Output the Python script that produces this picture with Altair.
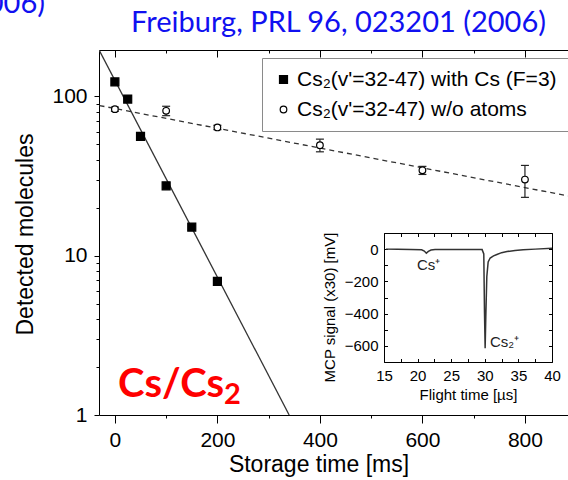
import altair as alt
import pandas as pd

# ---------------- texts ----------------
TITLE = "Freiburg, PRL 96, 023201 (2006)"
TITLE_CUT = "(2006)"
RED_MAIN = "Cs/Cs"
RED_SUB = "2"
LAB_CS = "Cs\u2082(v'=32-47) with Cs (F=3)"
LAB_WO = "Cs\u2082(v'=32-47) w/o atoms"
X_TITLE = "Storage time [ms]"
Y_TITLE = "Detected molecules"
INSET_X_TITLE = "Flight time [\u00b5s]"
INSET_Y_TITLE = "MCP signal (x30) [mV]"
PEAK_CS = "Cs\u207a"
PEAK_CS2 = "Cs\u2082\u207a"

# ---------------- main data ----------------
t_cs = [0, 25, 50, 100, 150, 200]
n_cs = [123, 96, 56, 27.4, 15.1, 6.9]

t_wo = [0, 100, 200, 400, 600, 800]
n_wo = [83, 81, 63.7, 49.3, 34.3, 30.0]
e_wo = [2.5, 5.5, 2.0, 4.5, 2.0, 6.8]

fit_cs_t = [-30, 340]
fit_cs_n = [193, 1]
fit_wo_t = [-30, 884]
fit_wo_n = [87.4, 23.7]

x_major = [0, 200, 400, 600, 800]
x_minor = [100, 300, 500, 700]
y_major = [1, 10, 100]
y_minor = [2, 3, 4, 5, 6, 7, 8, 9, 20, 30, 40, 50, 60, 70, 80, 90]

# ---------------- inset data ----------------
flight_t = [15.3, 17, 19, 20.6, 21.0, 21.3, 21.6, 22.0, 22.6, 24, 26, 28, 29.6,
            29.85, 29.95, 30.05, 30.15, 30.3, 30.5, 30.8, 31.3, 31.8, 32.5, 33.3,
            34.5, 35.7, 37.5, 40.0]
flight_v = [0, -1, -2, -4, -12, -25, -14, -6, -3, -3, -2, -2, -3,
            -30, -380, -615, -420, -170, -80, -55, -42, -33, -22, -15,
            -8, -4, 0, 6]
inset_x_labels = [15, 20, 25, 30, 35, 40]
inset_x_ticks = [15, 17.5, 20, 22.5, 25, 27.5, 30, 32.5, 35, 37.5, 40]
inset_y_labels = [0, -200, -400, -600]
inset_y_ticks = [100, 0, -100, -200, -300, -400, -500, -600, -700]

# ---------------- layout ----------------
W, H = 469, 365
AXF = "Liberation Sans"

X_MAIN = alt.Scale(domain=[-31, 884], nice=False, zero=False)
Y_MAIN = alt.Scale(type="log", domain=[1, 195], nice=False)
X_IN = alt.Scale(domain=[15, 40], range=[285, 453], nice=False, zero=False)
Y_IN = alt.Scale(domain=[-700, 100], range=[312, 183], nice=False, zero=False)


def x_carrier(vals, scale, axis):
    return alt.Chart(pd.DataFrame({"v": vals})).mark_point(opacity=0).encode(
        x=alt.X("v:Q", scale=scale, axis=axis))


def y_carrier(vals, scale, axis):
    return alt.Chart(pd.DataFrame({"v": vals})).mark_point(opacity=0).encode(
        y=alt.Y("v:Q", scale=scale, axis=axis))


def blank(**kw):
    base = dict(title=None, labels=False, grid=False)
    base.update(kw)
    return alt.Axis(**base)


df_fit_cs = pd.DataFrame({"t": fit_cs_t, "n": fit_cs_n})
df_fit_wo = pd.DataFrame({"t": fit_wo_t, "n": fit_wo_n})
df_err = pd.DataFrame({"t": t_wo,
                       "lo": [v - e for v, e in zip(n_wo, e_wo)],
                       "hi": [v + e for v, e in zip(n_wo, e_wo)]})
df_pts = pd.DataFrame({"t": t_cs + t_wo, "n": n_cs + n_wo,
                       "series": [LAB_CS] * len(t_cs) + [LAB_WO] * len(t_wo)})

AX_MAIN_X = alt.Axis(orient="bottom", values=x_major, format="d", tickSize=8,
                     labelFontSize=21, labelPadding=6, labelFlush=False,
                     labelOverlap=False, grid=False, title=X_TITLE,
                     titleFontSize=23, titleX=219.5, titleY=56,
                     titleAlign="center", titleBaseline="alphabetic")
AX_MAIN_Y = alt.Axis(orient="left", values=y_major, format="d", tickSize=5,
                     labelFontSize=21, labelPadding=7, labelFlush=False,
                     labelOverlap=False, grid=False, title=Y_TITLE,
                     titleFontSize=23, titleAngle=270, titleX=-74, titleY=184,
                     titleAlign="center", titleBaseline="middle")

fit_cs = alt.Chart(df_fit_cs).mark_line(color="#333333", strokeWidth=1.3, clip=True).encode(
    x=alt.X("t:Q", scale=X_MAIN, axis=AX_MAIN_X),
    y=alt.Y("n:Q", scale=Y_MAIN, axis=AX_MAIN_Y))
fit_wo = alt.Chart(df_fit_wo).mark_line(color="#333333", strokeWidth=1.3,
                                        strokeDash=[5, 4], clip=True).encode(
    x=alt.X("t:Q", scale=X_MAIN, axis=None),
    y=alt.Y("n:Q", scale=Y_MAIN, axis=None))
err_v = alt.Chart(df_err).mark_rule(color="#222222", strokeWidth=1.2).encode(
    x=alt.X("t:Q", scale=X_MAIN, axis=None),
    y=alt.Y("lo:Q", scale=Y_MAIN, axis=None), y2="hi:Q")
cap_lo = alt.Chart(df_err).mark_rule(color="#222222", strokeWidth=1.2, xOffset=-4, x2Offset=4).encode(
    x=alt.X("t:Q", scale=X_MAIN, axis=None), x2="t:Q",
    y=alt.Y("lo:Q", scale=Y_MAIN, axis=None))
cap_hi = alt.Chart(df_err).mark_rule(color="#222222", strokeWidth=1.2, xOffset=-4, x2Offset=4).encode(
    x=alt.X("t:Q", scale=X_MAIN, axis=None), x2="t:Q",
    y=alt.Y("hi:Q", scale=Y_MAIN, axis=None))

LEG = alt.Legend(orient="none", legendX=163, legendY=8, title=None, direction="vertical",
                 strokeColor="#8a8a8a", fillColor="white", padding=11,
                 labelFontSize=21, labelFont=AXF, labelColor="black", labelLimit=500,
                 rowPadding=8, labelOffset=3, symbolStrokeWidth=1.2)
SER = [LAB_CS, LAB_WO]
points = alt.Chart(df_pts).mark_point(strokeWidth=1.2, opacity=1).encode(
    x=alt.X("t:Q", scale=X_MAIN, axis=None),
    y=alt.Y("n:Q", scale=Y_MAIN, axis=None),
    shape=alt.Shape("series:N", scale=alt.Scale(domain=SER, range=["square", "circle"]), legend=LEG),
    fill=alt.Fill("series:N", scale=alt.Scale(domain=SER, range=["black", "white"]), legend=LEG),
    stroke=alt.Stroke("series:N", scale=alt.Scale(domain=SER, range=["black", "black"]), legend=LEG),
    size=alt.Size("series:N", scale=alt.Scale(domain=SER, range=[64, 44]), legend=LEG))

# extra axes of the main frame
main_axes = [
    x_carrier(x_minor, X_MAIN, blank(orient="bottom", values=x_minor, tickSize=3, domain=False)),
    x_carrier(x_major, X_MAIN, blank(orient="bottom", offset=-H, values=x_major, tickSize=7, domain=True)),
    x_carrier(x_minor, X_MAIN, blank(orient="bottom", offset=-H, values=x_minor, tickSize=3, domain=False)),
    y_carrier(y_minor, Y_MAIN, blank(orient="left", values=y_minor, tickSize=3, domain=False)),
]

# ---------------- inset ----------------
df_flight = pd.DataFrame({"ft": flight_t, "fv": flight_v})
AX_IN_X = alt.Axis(orient="bottom", offset=-(H - 312), values=inset_x_labels, format="d",
                   tickSize=0, labelFontSize=15, labelPadding=6, labelFlush=False,
                   labelOverlap=False, grid=False, title=INSET_X_TITLE, titleFontSize=15,
                   titlePadding=4)
AX_IN_Y = alt.Axis(orient="left", offset=-285, values=inset_y_labels, format="d",
                   tickSize=0, labelFontSize=15, labelPadding=6, labelFlush=False,
                   labelOverlap=False, grid=False, title=INSET_Y_TITLE, titleFontSize=15,
                   titleAngle=270, titleX=-55, titleY=257, titleAlign="center",
                   titleBaseline="middle")
inset_line = alt.Chart(df_flight).mark_line(color="#333333", strokeWidth=1.5).encode(
    x=alt.X("ft:Q", scale=X_IN, axis=AX_IN_X),
    y=alt.Y("fv:Q", scale=Y_IN, axis=AX_IN_Y))
inset_axes = [
    x_carrier(inset_x_ticks, X_IN, blank(orient="top", offset=-312, values=inset_x_ticks, tickSize=3.5, domain=False)),
    x_carrier(inset_x_ticks, X_IN, blank(orient="bottom", offset=-(H - 183), values=inset_x_ticks, tickSize=3.5, domain=True)),
    y_carrier(inset_y_ticks, Y_IN, blank(orient="right", offset=-(W - 285), values=inset_y_ticks, tickSize=3.5, domain=False)),
    y_carrier(inset_y_ticks, Y_IN, blank(orient="left", offset=-453, values=inset_y_ticks, tickSize=3.5, domain=True)),
]


def label(text, x, y, **kw):
    return alt.Chart(pd.DataFrame({"s": [text]})).mark_text(**kw).encode(
        x=alt.value(x), y=alt.value(y), text="s:N")


texts = [
    label(TITLE, 447, -18, align="right", baseline="alphabetic", font="Lato",
          fontSize=29, color="#1010f0"),
    label(TITLE_CUT, -54, -37, align="right", baseline="alphabetic", font="Lato",
          fontSize=29, color="#1010f0"),
    label(RED_MAIN, 19, 347, align="left", baseline="alphabetic", font="Lato",
          fontSize=40, fontWeight="bold", color="#ff0000"),
    label(RED_SUB, 125, 354, align="left", baseline="alphabetic", font="Lato",
          fontSize=29, fontWeight="bold", color="#ff0000"),
    label(PEAK_CS, 318, 220, align="left", baseline="alphabetic", font=AXF,
          fontSize=15, color="#222222"),
    label(PEAK_CS2, 391, 297, align="left", baseline="alphabetic", font=AXF,
          fontSize=15, color="#222222"),
]

chart = alt.layer(
    fit_cs, fit_wo, err_v, cap_lo, cap_hi, points, *main_axes,
    inset_line, *inset_axes, *texts
).resolve_scale(x="independent", y="independent").resolve_axis(
    x="independent", y="independent"
).properties(
    width=W, height=H,
    autosize=alt.AutoSizeParams(type="none"),
    padding={"left": 99, "top": 50, "right": 0, "bottom": 65},
    background="white",
).configure_view(stroke=None).configure_axis(
    labelFont=AXF, titleFont=AXF, labelColor="black", titleColor="black",
    domainColor="black", tickColor="black", titleFontWeight="normal",
    domainWidth=1, tickWidth=1,
)

chart.save("out.html", embed_options={"renderer": "svg", "actions": False})
